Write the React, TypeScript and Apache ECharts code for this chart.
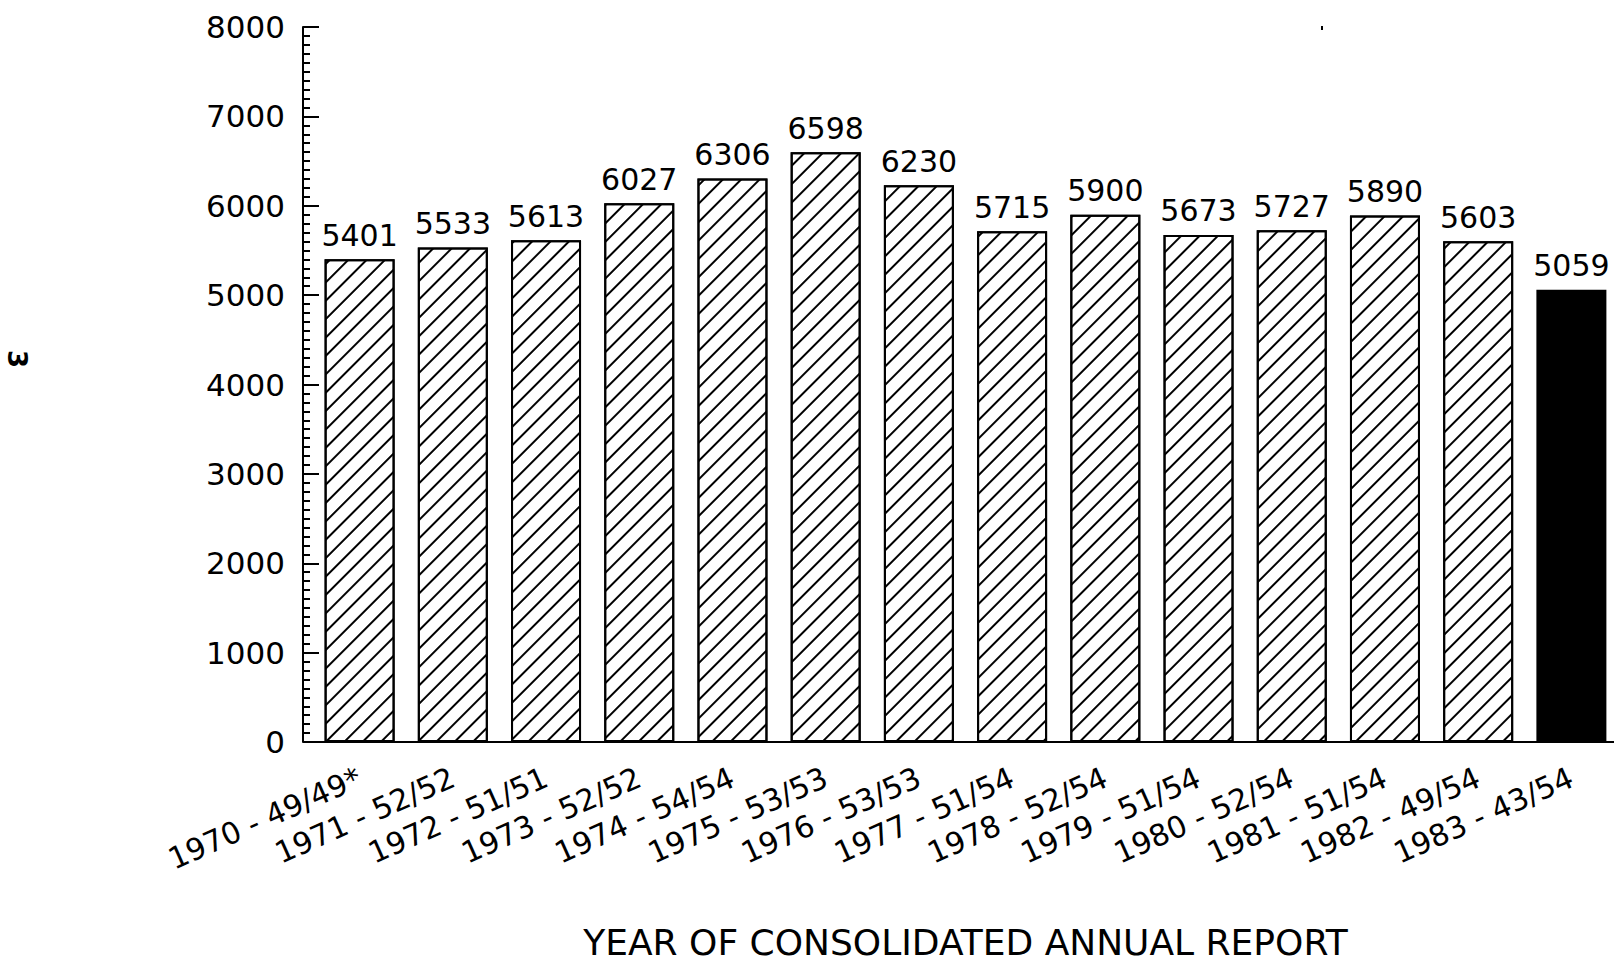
import React, { useEffect, useRef } from "react";
import * as echarts from "echarts";

const categories = [
  "1970 - 49/49*",
  "1971 - 52/52",
  "1972 - 51/51",
  "1973 - 52/52",
  "1974 - 54/54",
  "1975 - 53/53",
  "1976 - 53/53",
  "1977 - 51/54",
  "1978 - 52/54",
  "1979 - 51/54",
  "1980 - 52/54",
  "1981 - 51/54",
  "1982 - 49/54",
  "1983 - 43/54",
];
const values = [5401, 5533, 5613, 6027, 6306, 6598, 6230, 5715, 5900, 5673, 5727, 5890, 5603, 5059];
const highlightIndex = 13;
const yTicks = [0, 1000, 2000, 3000, 4000, 5000, 6000, 7000, 8000];
const xTitle = "YEAR OF CONSOLIDATED ANNUAL REPORT";
const yName = "3";

const FONT = "DejaVu Sans";

export default function App() {
  const ref = useRef<HTMLDivElement>(null);
  useEffect(() => {
    if (!ref.current) return;
    const chart = echarts.init(ref.current, null, { renderer: "svg" });
    const hatch = {
      symbol: "rect",
      symbolSize: 1,
      color: "#000",
      backgroundColor: "#fff",
      dashArrayX: [1, 0],
      dashArrayY: [2, 11],
      rotation: -Math.PI / 4,
    };
    chart.setOption({
      animation: false,
      backgroundColor: "#fff",
      grid: {
        left: 313,
        top: 27,
        width: 1305,
        height: 715,
        containLabel: false,
        outerBoundsMode: "none",
      },
      xAxis: {
        type: "category",
        data: categories,
        axisLine: { show: true, lineStyle: { color: "#000", width: 2 } },
        axisTick: { show: false },
        axisLabel: {
          interval: 0,
          rotate: 24,
          margin: 34,
          color: "#000",
          fontFamily: FONT,
          fontSize: 30,
          hideOverlap: false,
        },
        name: xTitle,
        nameLocation: "middle",
        nameGap: 182,
        nameTextStyle: { color: "#000", fontFamily: FONT, fontSize: 36 },
      },
      yAxis: {
        type: "value",
        min: yTicks[0],
        max: yTicks[yTicks.length - 1],
        interval: 1000,
        offset: 10,
        axisLine: { show: true, lineStyle: { color: "#000", width: 2 } },
        axisTick: { show: true, inside: true, length: 16, lineStyle: { color: "#000", width: 2 } },
        minorTick: { show: true, splitNumber: 10, length: 7, lineStyle: { color: "#000", width: 2 } },
        splitLine: { show: false },
        axisLabel: {
          color: "#000",
          fontFamily: FONT,
          fontSize: 31,
          margin: 18,
          formatter: (v: number) => String(v),
        },
      },
      graphic: [
        {
          type: "text",
          left: 4,
          top: 350,
          rotation: -Math.PI / 2,
          style: { text: yName, fill: "#000", font: `bold 26px ${FONT}` },
        },
        {
          type: "line",
          shape: { x1: 303, y1: 742, x2: 314, y2: 742 },
          style: { stroke: "#000", lineWidth: 2 },
        },
        {
          type: "rect",
          shape: { x: 1321, y: 26, width: 2, height: 4 },
          style: { fill: "#000" },
        },
      ],
      series: [
        {
          type: "bar",
          barWidth: 70,
          data: values.map((v, i) =>
            i === highlightIndex
              ? { value: v, itemStyle: { color: "#000", borderColor: "#000", borderWidth: 2, decal: "none" } }
              : { value: v }
          ),
          itemStyle: { color: "#fff", borderColor: "#000", borderWidth: 2, decal: hatch },
          label: {
            show: true,
            position: "top",
            distance: 9,
            color: "#000",
            fontFamily: FONT,
            fontSize: 30,
          },
        },
      ],
    });
    return () => chart.dispose();
  }, []);
  return (
    <div
      ref={ref}
      style={{ position: "absolute", left: 0, top: 0, width: 1614, height: 964 }}
    />
  );
}
